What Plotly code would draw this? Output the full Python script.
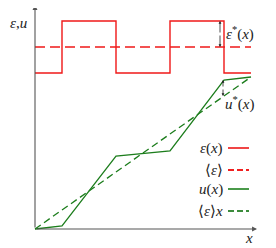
import plotly.graph_objects as go

# ---- data ----
x_nodes = [0, 0.125, 0.375, 0.625, 0.875, 1.0]
eps_levels = [156, 208, 156, 208, 156]          # piecewise-constant epsilon(x)
eps_mean = 182                                   # <epsilon>
u_nodes = [0, 3, 73, 78, 149, 152]               # u(x) at nodes
u_end_mean = 152                                 # <epsilon> x at x = 1
legend_labels = ["<i>ε</i>(<i>x</i>)", "⟨<i>ε</i>⟩", "<i>u</i>(<i>x</i>)", "⟨<i>ε</i>⟩<i>x</i>"]

RED = "#f01818"
GREEN = "#1c7d1c"
AX = "#555555"
FONT = "Liberation Serif"

W, H = 276, 248
OFF = 8              # page body margin
X0, XW = 35, 216     # page pixel of x=0, pixels per unit
Y0 = 229             # page pixel of y=0

def px(p):  # page pixel x -> data x
    return (p - X0) / XW

def py(p):  # page pixel y -> data y
    return Y0 - p

# step curve
sx, sy = [], []
for i, lv in enumerate(eps_levels):
    sx += [x_nodes[i], x_nodes[i + 1]]
    sy += [lv, lv]

fig = go.Figure()
fig.add_trace(go.Scatter(x=sx, y=sy, mode="lines", line=dict(color=RED, width=1.4), hoverinfo="skip"))
fig.add_trace(go.Scatter(x=[x_nodes[0], x_nodes[-1]], y=[eps_mean, eps_mean], mode="lines",
                         line=dict(color=RED, width=1.4, dash="10px,5px"), hoverinfo="skip"))
fig.add_trace(go.Scatter(x=x_nodes, y=u_nodes, mode="lines", line=dict(color=GREEN, width=1.3), hoverinfo="skip"))
fig.add_trace(go.Scatter(x=[0, 1], y=[0, u_end_mean], mode="lines",
                         line=dict(color=GREEN, width=1.3, dash="7px,4px"), hoverinfo="skip"))

ann = []
# axes with arrows
ann.append(dict(x=px(35), y=py(5), ax=px(35), ay=py(229), xref="x", yref="y", axref="x", ayref="y",
                showarrow=True, arrowhead=2, arrowsize=0.9, arrowwidth=1.1, arrowcolor=AX, text=""))
ann.append(dict(x=px(257), y=py(229), ax=px(35), ay=py(229), xref="x", yref="y", axref="x", ayref="y",
                showarrow=True, arrowhead=2, arrowsize=0.9, arrowwidth=1.1, arrowcolor=AX, text=""))
# double arrows
x_e = px(220)
x_u = px(223)
u_mean_at = u_end_mean * x_nodes[4]
for xa, ya, yb in [(x_e, eps_levels[3], eps_mean), (x_u, u_nodes[4], u_mean_at)]:
    for (a, b) in [(ya, yb), (yb, ya)]:
        ann.append(dict(x=xa, y=b, ax=xa, ay=(a + b) / 2,
                        xref="x", yref="y", axref="x", ayref="y", showarrow=True,
                        arrowhead=2, arrowsize=0.7, arrowwidth=0.8, arrowcolor="#222", text=""))
# labels
tf = dict(family=FONT, size=15, color="#222")
ann.append(dict(x=px(18), y=py(23), xref="x", yref="y", text="<i>ε</i>,<i>u</i>", showarrow=False, font=tf))
ann.append(dict(x=px(249), y=py(238), xref="x", yref="y", text="<i>x</i>", showarrow=False, font=tf))
ann.append(dict(x=px(224), y=py(33), xref="x", yref="y", text="<i>ε</i><sup>*</sup>(<i>x</i>)",
                showarrow=False, xanchor="left", font=tf))
ann.append(dict(x=px(223), y=py(103), xref="x", yref="y", text="<i>u</i><sup>*</sup>(<i>x</i>)",
                showarrow=False, xanchor="left", font=tf))

shapes = []
rows = [148, 170, 189, 211]
styles = [(RED, "solid"), (RED, "dash"), (GREEN, "solid"), (GREEN, "dash")]
lcols = ["#f04545", "#f02020", "#4a9a4a", "#3c8c3c"]
for lab, r, (c, d), lc in zip(legend_labels, rows, styles, lcols):
    ann.append(dict(x=px(225), y=py(r), xref="x", yref="y", text=lab, showarrow=False,
                    xanchor="right", font=tf))
    shapes.append(dict(type="line", xref="x", yref="y", x0=px(228), x1=px(249), y0=py(r), y1=py(r),
                       line=dict(color=lc, width=2, dash=d if d == "solid" else "6px,3px")))

fig.update_layout(
    width=W, height=H, margin=dict(l=0, r=0, t=0, b=0),
    paper_bgcolor="white", plot_bgcolor="white", showlegend=False,
    font=dict(family=FONT),
    xaxis=dict(range=[px(OFF), px(OFF + W)], visible=False, fixedrange=True),
    yaxis=dict(range=[py(OFF + H), py(OFF)], visible=False, fixedrange=True),
    annotations=ann, shapes=shapes,
)
fig.write_html("out.html")
